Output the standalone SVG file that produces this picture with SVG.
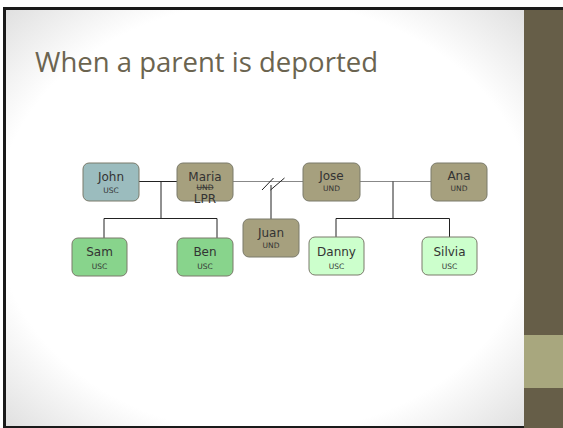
<svg xmlns="http://www.w3.org/2000/svg" width="563" height="428" viewBox="0 0 563 428">
<defs>
<radialGradient id="bg" cx="0.5" cy="0.5" r="0.72">
<stop offset="0.72" stop-color="#ffffff"/>
<stop offset="1" stop-color="#dedede"/>
</radialGradient>
<style>
.box{stroke:#7a7a6a;stroke-width:1}
.und{fill:#a6a07e}
.usc1{fill:#9bbcbe}
.usc2{fill:#88d48c}
.usc3{fill:#ccffcc}
.nm{font-family:"DejaVu Sans",Verdana,sans-serif;font-size:12px;fill:#333;text-anchor:middle}
.st{font-family:"DejaVu Sans",Verdana,sans-serif;font-size:7.5px;fill:#333;text-anchor:middle}
.ln{stroke:#222;stroke-width:1;fill:none}
.lg{stroke:#888;stroke-width:1;fill:none}
</style>
</defs>
<rect x="0" y="0" width="563" height="428" fill="#ffffff"/>
<rect x="3" y="7" width="560" height="421" fill="#1a1a1a"/>
<rect x="6" y="10" width="518" height="416" fill="url(#bg)"/>
<rect x="524" y="10" width="39" height="418" fill="#665e48"/>
<rect x="524" y="335" width="39" height="53" fill="#a8a77e"/>
<text x="35" y="72" font-family="'Open Sans','Liberation Sans',sans-serif" font-size="28" fill="#6b6450" textLength="343" lengthAdjust="spacingAndGlyphs">When a parent is deported</text>

<g id="connectors">
<path class="ln" d="M139 181.5H177M161 181.5V218.5M104 218.5H217M104 218.5V238M217 218.5V238"/>
<path class="lg" d="M233 181.5H303"/>
<path class="ln" d="M262 190L273.5 178M270.5 190L284.5 178M271 185V219"/>
<path class="lg" d="M360 181.5H431"/>
<path class="ln" d="M393 181.5V218.5M336 218.5H449.5M336 218.5V237M449.5 218.5V237"/>
</g>

<g id="john"><rect class="box usc1" x="83" y="163" width="56" height="38" rx="6"/><text class="nm" x="111" y="181">John</text><text class="st" x="111" y="193">USC</text></g>
<g id="maria"><rect class="box und" x="177" y="163" width="56" height="38" rx="6"/><text class="nm" x="205" y="181">Maria</text><text class="st" x="205" y="190" text-decoration="line-through">UND</text><text class="nm" x="205" y="202.5" font-size="11.5">LPR</text></g>
<g id="jose"><rect class="box und" x="303" y="163" width="57" height="38" rx="6"/><text class="nm" x="331.5" y="180">Jose</text><text class="st" x="331.5" y="191">UND</text></g>
<g id="ana"><rect class="box und" x="431" y="163" width="56" height="38" rx="6"/><text class="nm" x="459" y="180">Ana</text><text class="st" x="459" y="191">UND</text></g>
<g id="juan"><rect class="box und" x="243" y="219" width="56" height="38" rx="6"/><text class="nm" x="271" y="237">Juan</text><text class="st" x="271" y="248">UND</text></g>
<g id="sam"><rect class="box usc2" x="72" y="238" width="55" height="38" rx="6"/><text class="nm" x="99.5" y="256" font-size="13">Sam</text><text class="st" x="99.5" y="269">USC</text></g>
<g id="ben"><rect class="box usc2" x="177" y="238" width="56" height="38" rx="6"/><text class="nm" x="205" y="256">Ben</text><text class="st" x="205" y="269">USC</text></g>
<g id="danny"><rect class="box usc3" x="309" y="237" width="55" height="38" rx="6"/><text class="nm" x="336.5" y="256" font-size="13">Danny</text><text class="st" x="336.5" y="269">USC</text></g>
<g id="silvia"><rect class="box usc3" x="422" y="237" width="55" height="38" rx="6"/><text class="nm" x="449.5" y="256" font-size="13">Silvia</text><text class="st" x="449.5" y="269">USC</text></g>
</svg>
